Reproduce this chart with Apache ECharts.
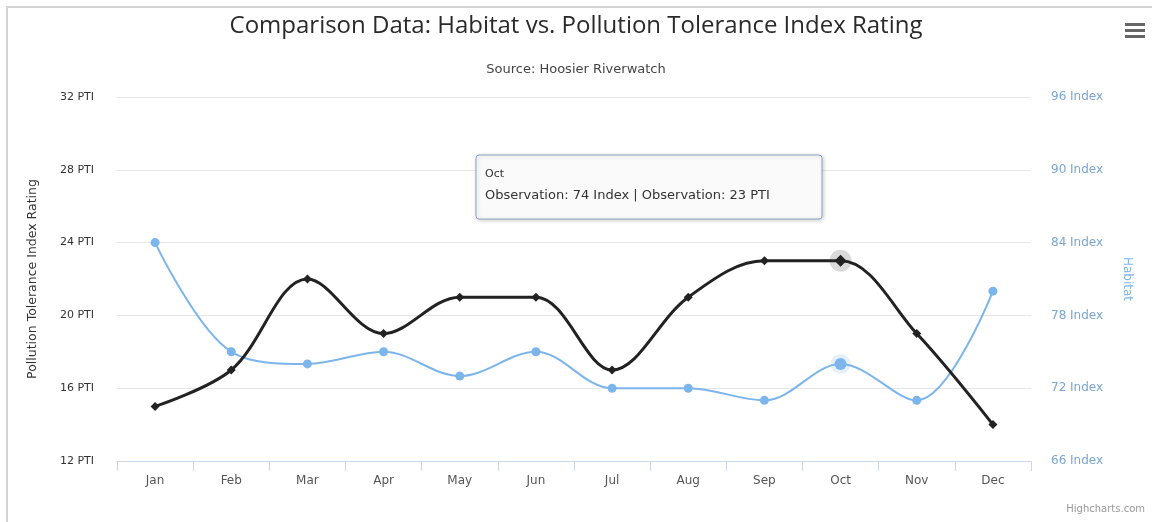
<!DOCTYPE html>
<html>
<head>
<meta charset="utf-8">
<script src="https://cdn.jsdelivr.net/npm/echarts@6/dist/echarts.min.js"></script>
<style>html,body{margin:0;padding:0;background:#fff}#c{width:1152px;height:522px}</style>
</head>
<body>
<div id="c"></div>
<script>
const months = ['Jan','Feb','Mar','Apr','May','Jun','Jul','Aug','Sep','Oct','Nov','Dec'];
const ptiValues = [15, 17, 22, 19, 21, 21, 17, 21, 23, 23, 19, 14];
const habitatValues = [84, 75, 74, 75, 73, 75, 72, 72, 71, 74, 71, 80];
const ptiTicks = [12, 16, 20, 24, 28, 32];
const habitatTicks = [66, 72, 78, 84, 90, 96];
const hoverIndex = 9;

const FONT = '"DejaVu Sans", "Open Sans", sans-serif';
const TFONT = '"Open Sans", "DejaVu Sans", sans-serif';
const chart = echarts.init(document.getElementById('c'), null, {renderer: 'canvas'});

const tipTitle = months[hoverIndex];
const tipBody = 'Observation: ' + habitatValues[hoverIndex] + ' Index | Observation: ' + ptiValues[hoverIndex] + ' PTI';

const haloPti = ptiValues.map((v, i) => i === hoverIndex ? v : '-');
const haloHab = habitatValues.map((v, i) => i === hoverIndex ? v : '-');

chart.setOption({
  animation: false,
  backgroundColor: '#fff',
  title: [
    {text: 'Comparison Data: Habitat vs. Pollution Tolerance Index Rating', left: 'center', top: 9,
     textStyle: {fontFamily: TFONT, fontSize: 24, fontWeight: 'normal', color: '#2a2a2a'}},
    {text: 'Source: Hoosier Riverwatch', left: 'center', top: 58,
     textStyle: {fontFamily: FONT, fontSize: 13, fontWeight: 'normal', color: '#444'}}
  ],
  grid: {left: 117, right: 121, top: 97, bottom: 61},
  xAxis: {
    type: 'category', data: months, boundaryGap: true,
    axisLine: {lineStyle: {color: '#ccd6eb', width: 1}},
    axisTick: {show: true, length: 10, lineStyle: {color: '#ccd6eb'}},
    axisLabel: {fontFamily: FONT, fontSize: 12, color: '#555', margin: 14}
  },
  yAxis: [
    {type: 'value', min: 12, max: 32, interval: 4, position: 'left',
     name: 'Pollution Tolerance Index Rating', nameLocation: 'middle', nameGap: 78,
     nameTextStyle: {fontFamily: FONT, fontSize: 12.5, color: '#333'},
     axisLine: {show: false}, axisTick: {show: false},
     axisLabel: {fontFamily: FONT, fontSize: 11, color: '#333', margin: 23, formatter: v => v + ' PTI'},
     splitLine: {lineStyle: {color: '#e6e6e6', width: 1}}},
    {type: 'value', min: 66, max: 96, interval: 6, position: 'right',
     name: 'Habitat', nameLocation: 'middle', nameGap: 90, nameRotate: -90,
     nameTextStyle: {fontFamily: FONT, fontSize: 12, color: '#7cb5ec'},
     axisLine: {show: false}, axisTick: {show: false},
     axisLabel: {fontFamily: FONT, fontSize: 12, color: '#7ba6d4', margin: 20, formatter: v => v + ' Index'},
     splitLine: {show: false}}
  ],
  series: [
    {name: 'halo-hab', type: 'scatter', yAxisIndex: 1, data: haloHab, symbol: 'circle', symbolSize: 20,
     itemStyle: {color: 'rgba(124,181,236,0.25)'}, z: 1, silent: true},
    {name: 'halo-pti', type: 'scatter', yAxisIndex: 0, data: haloPti, symbol: 'circle', symbolSize: 22,
     itemStyle: {color: 'rgba(0,0,0,0.18)'}, z: 1, silent: true},
    {name: 'Habitat', type: 'line', yAxisIndex: 1, data: habitatValues.map((v, i) => i === hoverIndex ? {value: v, symbolSize: 12} : v),
     smooth: 0.35, symbol: 'circle', symbolSize: 9, showSymbol: true,
     lineStyle: {color: '#7cb5ec', width: 2}, itemStyle: {color: '#7cb5ec'}, z: 3},
    {name: 'PTI', type: 'line', yAxisIndex: 0, data: ptiValues.map((v, i) => i === hoverIndex ? {value: v, symbolSize: 12} : v),
     smooth: 0.35, symbol: 'diamond', symbolSize: 9, showSymbol: true,
     lineStyle: {color: '#222', width: 3}, itemStyle: {color: '#222'}, z: 4}
  ],
  graphic: [
    {type: 'line', shape: {x1: 6, y1: 7, x2: 1152, y2: 7}, style: {stroke: '#d4d4d4', lineWidth: 2}, silent: true},
    {type: 'line', shape: {x1: 7, y1: 6, x2: 7, y2: 522}, style: {stroke: '#d4d4d4', lineWidth: 2}, silent: true},
    {type: 'rect', shape: {x: 1125, y: 23, width: 20, height: 3}, style: {fill: '#666'}},
    {type: 'rect', shape: {x: 1125, y: 29, width: 20, height: 3}, style: {fill: '#666'}},
    {type: 'rect', shape: {x: 1125, y: 35, width: 20, height: 3}, style: {fill: '#666'}},
    {type: 'text', right: 7, bottom: 8, style: {text: 'Highcharts.com', fontFamily: FONT, fontSize: 10, fill: '#999'}},
    {type: 'rect', z: 100, shape: {x: 476, y: 155, width: 346, height: 64, r: 3},
     style: {fill: '#fafafa', stroke: '#8aa4c8', lineWidth: 1,
             shadowBlur: 4, shadowColor: 'rgba(0,0,0,0.2)', shadowOffsetX: 1, shadowOffsetY: 1}},
    {type: 'text', z: 101, x: 485, y: 174,
     style: {text: tipTitle, fontFamily: FONT, fontSize: 11, fill: '#333', textVerticalAlign: 'middle', verticalAlign: 'middle'}},
    {type: 'text', z: 101, x: 485, y: 196,
     style: {text: tipBody, fontFamily: FONT, fontSize: 13, fill: '#333', textVerticalAlign: 'middle', verticalAlign: 'middle'}}
  ]
});
</script>
</body>
</html>
